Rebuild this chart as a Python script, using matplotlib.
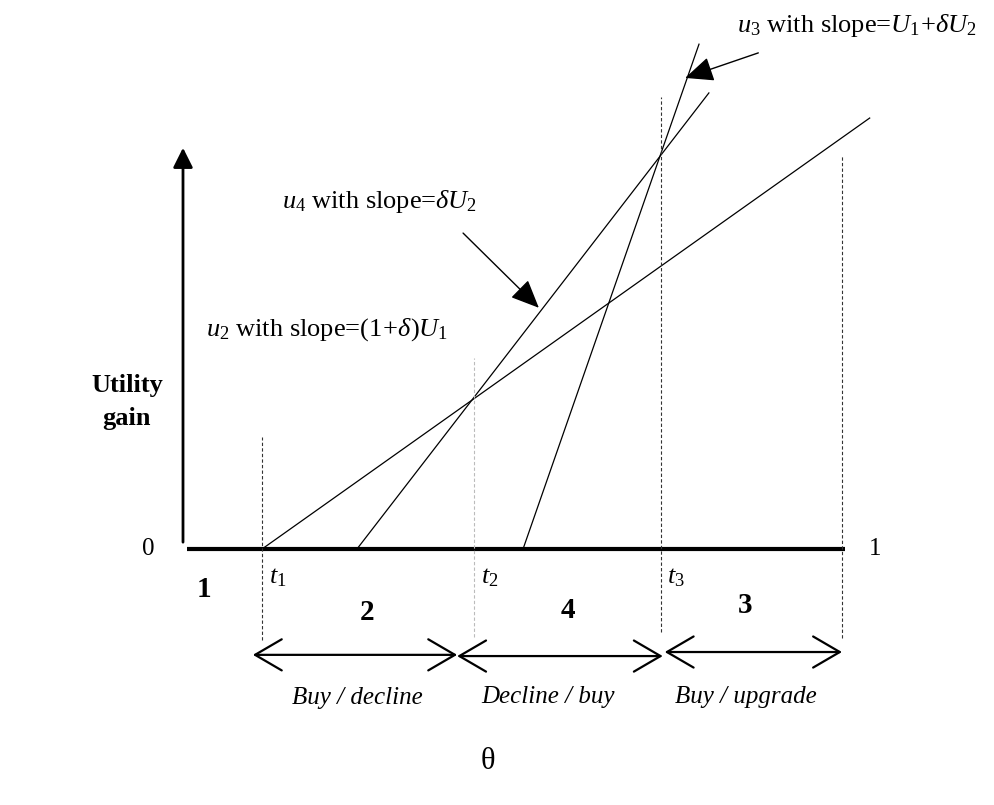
import matplotlib
matplotlib.use("Agg")
import matplotlib.pyplot as plt

plt.rcParams['font.family'] = ['Liberation Serif', 'DejaVu Serif']
plt.rcParams['mathtext.fontset'] = 'custom'
plt.rcParams['mathtext.rm'] = 'Liberation Serif'
plt.rcParams['mathtext.it'] = 'Liberation Serif:italic'
plt.rcParams['mathtext.bf'] = 'Liberation Serif:bold'

# thresholds on the theta axis
thresholds = [0.120, 0.442, 0.725, 1.0]
threshold_names = [r'$t_\mathit{1}$', r'$t_\mathit{2}$', r'$t_\mathit{3}$']
dash_tops = [0.277, 0.473, 1.119, 0.975]
dash_bottoms = [-0.225, -0.218, -0.205, -0.220]

# utility lines u2, u4, u3: zero crossing, slope, end of drawn segment
line_names = ['u2', 'u4', 'u3']
zeros = [0.120, 0.264, 0.516]
slopes = [1.157, 2.114, 4.68]
ends = [1.042, 0.798, 0.783]

regions = ['1', '2', '4', '3']
actions = ['Buy / decline', 'Decline / buy', 'Buy / upgrade']

fig = plt.figure(figsize=(9.95, 8.05), dpi=100)
ax = fig.add_axes([183 / 995, 1 - 549 / 805, 659 / 995, 404 / 805])
ax.set_xlim(0, 1)
ax.set_ylim(0, 1)
ax.axis('off')

# axes
ax.plot([0.006, 1.005], [0, 0], color='black', lw=3, clip_on=False, solid_capstyle='butt')
ax.annotate('', xy=(0, 1.0), xytext=(0, 0.01),
            arrowprops=dict(arrowstyle='-|>', color='black', lw=2, mutation_scale=30),
            annotation_clip=False)

# utility lines
for z, s, e in zip(zeros, slopes, ends):
    ax.plot([z, e], [0, s * (e - z)], color='black', lw=0.9, clip_on=False)

# dashed verticals
for i, (t, top, bot) in enumerate(zip(thresholds, dash_tops, dash_bottoms)):
    c = '#bbbbbb' if i == 1 else '#333333'
    ax.plot([t, t], [bot, top], color=c, lw=0.8, ls=(0, (3, 2)), clip_on=False)

# threshold labels
for t, name in zip(thresholds[:3], threshold_names):
    ax.text(t + 0.01, -0.072, name, fontsize=19, ha='left', va='center')

ax.text(-0.053, 0, '0', fontsize=18, ha='center', va='center')
ax.text(1.05, 0, '1', fontsize=18, ha='center', va='center')

# region numbers
reg_pos = [(0.032, -0.101), (0.279, -0.156), (0.584, -0.151), (0.853, -0.139)]
for r, (x, y) in zip(regions, reg_pos):
    ax.text(x, y, r, fontsize=21, fontweight='bold', ha='center', va='center')

# double arrows under the regions
arrow_y = [-0.262, -0.265, -0.255]
bounds = [0.106, 0.416, 0.728, 1.0]
starts = [0.106, 0.416, 0.731]
for i in range(3):
    ax.annotate('', xy=(bounds[i + 1], arrow_y[i]), xytext=(starts[i], arrow_y[i]),
                arrowprops=dict(arrowstyle='<->,head_length=1.2,head_width=0.7',
                                color='black', lw=1.6, mutation_scale=16,
                                shrinkA=0, shrinkB=0),
                annotation_clip=False)

act_pos = [(0.264, -0.369), (0.554, -0.366), (0.854, -0.366)]
for a, (x, y) in zip(actions, act_pos):
    ax.text(x, y, a, fontsize=18, style='italic', ha='center', va='center')

# line labels with arrows
ax.text(0.841, 1.297, r'$u_\mathit{3}$ with slope=$U_\mathit{1}\!+\!\delta U_2$', fontsize=19,
        ha='left', va='center')
ax.annotate('', xy=(0.762, 1.166), xytext=(0.873, 1.228),
            arrowprops=dict(arrowstyle='-|>,head_length=0.8,head_width=0.35',
                            color='black', lw=1.0, mutation_scale=22,
                            shrinkA=0, shrinkB=0),
            annotation_clip=False)

ax.text(0.150, 0.859, r'$u_\mathit{4}$ with slope=$\delta U_2$', fontsize=19,
        ha='left', va='center')
ax.annotate('', xy=(0.540, 0.597), xytext=(0.425, 0.782),
            arrowprops=dict(arrowstyle='-|>,head_length=0.8,head_width=0.35',
                            color='black', lw=1.0, mutation_scale=22,
                            shrinkA=0, shrinkB=0),
            annotation_clip=False)

ax.text(0.035, 0.542, r'$u_2$ with slope=$(\mathit{1}\!+\!\delta)U_\mathit{1}$', fontsize=19,
        ha='left', va='center')

fig.text(127 / 995, 1 - 385 / 805, 'Utility', fontsize=19, fontweight='bold',
         ha='center', va='center')
fig.text(127 / 995, 1 - 418 / 805, 'gain', fontsize=19, fontweight='bold',
         ha='center', va='center')

ax.text(0.463, -0.527, 'θ', fontsize=22, ha='center', va='center')

fig.savefig('out.png', dpi=100)
